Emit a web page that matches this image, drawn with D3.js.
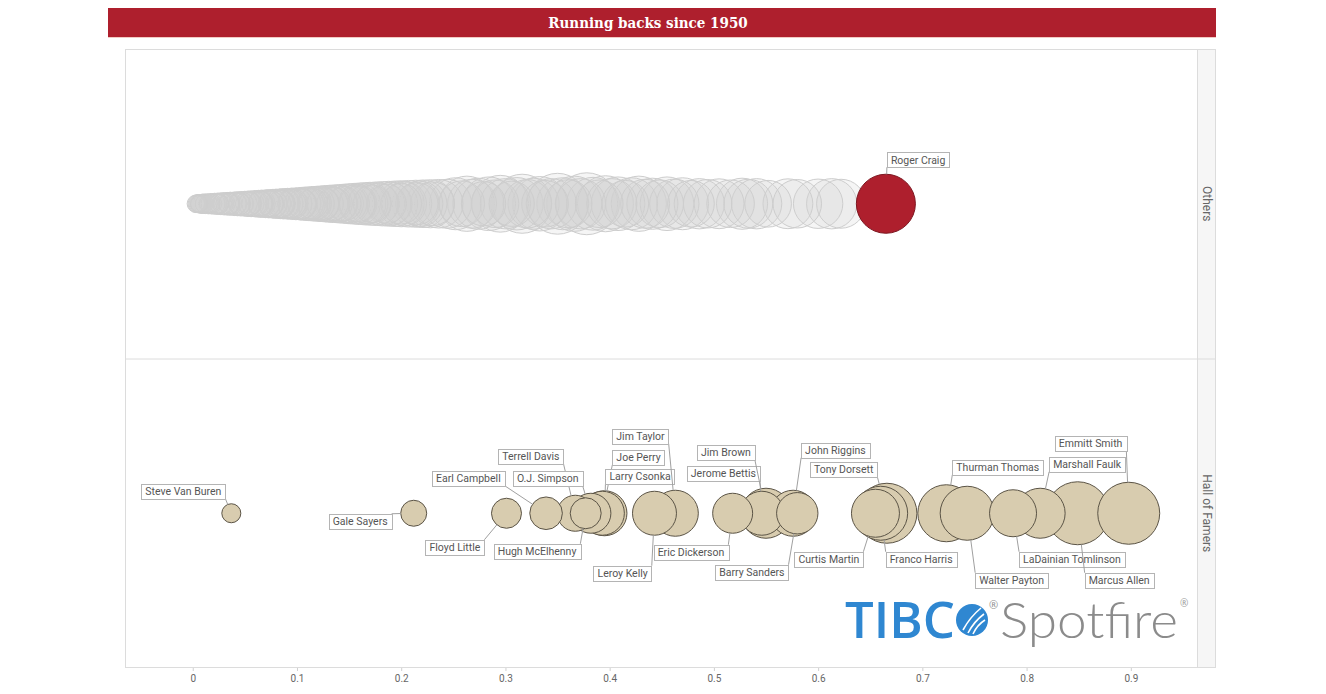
<!DOCTYPE html>
<html>
<head>
<meta charset="utf-8">
<script src="https://cdn.jsdelivr.net/npm/d3@7"></script>
<style>
  body { margin: 0; background: #fff; }
  svg { display: block; }
</style>
</head>
<body>
<div id="chart"></div>
<script>
const titleText = "Running backs since 1950";
const panels = ["Others", "Hall of Famers"];
const xTicks = [0, 0.1, 0.2, 0.3, 0.4, 0.5, 0.6, 0.7, 0.8, 0.9];

// Hall of Famers: x value and marker size value
const hofNames = ["Steve Van Buren", "Gale Sayers", "Floyd Little", "Earl Campbell", "Terrell Davis",
  "Hugh McElhenny", "O.J. Simpson", "Joe Perry", "Larry Csonka", "Leroy Kelly", "Jim Taylor",
  "Eric Dickerson", "Jerome Bettis", "Jim Brown", "John Riggins", "Barry Sanders", "Curtis Martin",
  "Franco Harris", "Tony Dorsett", "Thurman Thomas", "Walter Payton", "LaDainian Tomlinson",
  "Marshall Faulk", "Marcus Allen", "Emmitt Smith"];
const hofX = [0.037, 0.212, 0.301, 0.339, 0.367, 0.377, 0.382, 0.393, 0.395, 0.443, 0.463,
  0.518, 0.546, 0.550, 0.576, 0.580, 0.655, 0.660, 0.666, 0.723, 0.743, 0.787, 0.813, 0.849, 0.898];
const hofSize = [8.3, 15.5, 20.7, 24.4, 29.8, 22, 36.7, 44.4, 46.5, 44.4, 48.6,
  36.7, 44.4, 57.4, 48.6, 39.3, 52.9, 66.9, 82.6, 74.6, 66.9, 50.7, 57.4, 91, 88.2];

// the one highlighted player among the others
const highlightName = "Roger Craig";
const highlightX = 0.665;
const highlightSize = 80;

// other running backs: [x, size]
const others = [
  [0.003, 7.0], [0.004, 7.2], [0.005, 7.4], [0.006, 7.6], [0.007, 7.8], [0.008, 8.0], [0.009, 8.3],
  [0.010, 8.5], [0.012, 8.9], [0.015, 9.3],
  [0.018, 9.6], [0.021, 10.1], [0.024, 10.5], [0.027, 10.9], [0.030, 11.4], [0.033, 11.8], [0.036, 12.3],
  [0.040, 12.8], [0.043, 13.3], [0.046, 13.7], [0.050, 14.3], [0.053, 14.8], [0.056, 15.4], [0.060, 16.0],
  [0.063, 16.6], [0.066, 17.2], [0.070, 17.8], [0.073, 18.4], [0.077, 19.1], [0.080, 19.7], [0.084, 20.5],
  [0.087, 21.2], [0.091, 21.9], [0.095, 22.7], [0.099, 23.5], [0.103, 24.3], [0.107, 25.2], [0.111, 26.1],
  [0.115, 27.0], [0.119, 28.0], [0.123, 29.0], [0.127, 30.1], [0.131, 31.2], [0.135, 32.3], [0.140, 33.6],
  [0.145, 35.0], [0.150, 36.7], [0.155, 38.1], [0.160, 39.5], [0.165, 40.9], [0.170, 42.2], [0.176, 43.6],
  [0.182, 45.0], [0.188, 46.2], [0.194, 47.4], [0.200, 48.6], [0.207, 49.7], [0.214, 50.8], [0.221, 52.0],
  [0.228, 53.0], [0.236, 54.1], [0.244, 55.1],
  [0.006, 6.6], [0.015, 7.2], [0.025, 8.4], [0.035, 9.6], [0.045, 10.8], [0.055, 12.2], [0.065, 13.6],
  [0.075, 15.0], [0.085, 16.6], [0.095, 18.2], [0.105, 19.9], [0.115, 21.6], [0.125, 23.4], [0.135, 25.3],
  [0.145, 27.3], [0.158, 29.6], [0.172, 32.5], [0.186, 35.2], [0.200, 38.0], [0.215, 41.0], [0.230, 44.0],
  [0.011, 7.6], [0.017, 8.4], [0.023, 9.2], [0.029, 10.0], [0.035, 10.9], [0.041, 11.8], [0.047, 12.7],
  [0.053, 13.6], [0.059, 14.6], [0.065, 15.6], [0.071, 16.6], [0.077, 17.7], [0.083, 18.8], [0.089, 19.9],
  [0.096, 21.2], [0.103, 22.6], [0.110, 24.0], [0.117, 25.5], [0.124, 27.0], [0.132, 28.7], [0.140, 30.5],
  [0.149, 32.5], [0.158, 34.6], [0.168, 37.0], [0.178, 39.4], [0.190, 42.0], [0.203, 45.0], [0.218, 48.0],
  [0.252, 62], [0.258, 48], [0.263, 70], [0.268, 55], [0.274, 60], [0.279, 45], [0.284, 66], [0.290, 52],
  [0.295, 74], [0.300, 58], [0.306, 47], [0.311, 63], [0.316, 80], [0.321, 54], [0.327, 60], [0.333, 68],
  [0.338, 50], [0.344, 58], [0.350, 85], [0.355, 62], [0.360, 53], [0.366, 70], [0.372, 58], [0.378, 88],
  [0.384, 64], [0.390, 52], [0.396, 72], [0.402, 58], [0.408, 66], [0.415, 50], [0.421, 62], [0.428, 70],
  [0.434, 55], [0.441, 60], [0.448, 52], [0.455, 66], [0.462, 56], [0.470, 62], [0.478, 50], [0.486, 58],
  [0.494, 54],
  [0.505, 57], [0.516, 52], [0.527, 60], [0.533, 55], [0.541, 58], [0.552, 50], [0.571, 57], [0.580, 54],
  [0.600, 56], [0.613, 58], [0.622, 55]
];

// label box placement, pixel offset of box left / box middle from the marker centre
const labelOffsets = {
  "Steve Van Buren": [-90, -22], "Gale Sayers": [-85, 8], "Floyd Little": [-81, 34],
  "Earl Campbell": [-114, -35], "Terrell Davis": [-77, -57], "O.J. Simpson": [-78, -35],
  "Hugh McElhenny": [-92, 38], "Joe Perry": [10, -56], "Larry Csonka": [1, -37],
  "Leroy Kelly": [-61, 60], "Jim Taylor": [-63, -77], "Eric Dickerson": [-79, 39],
  "Jerome Bettis": [-75, -40], "Jim Brown": [-69, -61], "John Riggins": [8, -63],
  "Barry Sanders": [-82, 59], "Curtis Martin": [-81, 46], "Franco Harris": [5, 46],
  "Tony Dorsett": [-77, -44], "Thurman Thomas": [6, -46], "Walter Payton": [8, 67],
  "LaDainian Tomlinson": [6, 46], "Marshall Faulk": [9, -49], "Marcus Allen": [7, 67],
  "Emmitt Smith": [-74, -70], "Roger Craig": [1, -44]
};

const width = 1326, height = 694;
const frame = { left: 125, right: 1216, top: 49, bottom: 668, strip: 19 };
const plotRight = frame.right - frame.strip;

const svg = d3.select("#chart").append("svg")
  .attr("width", width)
  .attr("height", height);

// title bar
svg.append("rect")
  .attr("x", 108).attr("y", 8).attr("width", 1108).attr("height", 29)
  .attr("fill", "#ae1f2d");
svg.append("line")
  .attr("x1", 108).attr("x2", 1216).attr("y1", 37.5).attr("y2", 37.5)
  .attr("stroke", "#f2cbc4");
svg.append("text")
  .attr("x", 648).attr("y", 27.5)
  .attr("text-anchor", "middle")
  .attr("fill", "#fff")
  .style("font-family", "'DejaVu Serif Condensed', 'DejaVu Serif', serif")
  .style("font-weight", "bold")
  .style("font-size", "15px")
  .text(titleText);

// scales
const x = d3.scaleLinear().domain([-0.065, 0.9635]).range([frame.left, plotRight]);
const y = d3.scaleBand().domain(panels).range([frame.top, frame.bottom]);
const r = d3.scaleSqrt().domain([0, 100]).range([0, 33]);

// frame and panel strip
svg.append("rect")
  .attr("x", plotRight).attr("y", frame.top)
  .attr("width", frame.strip).attr("height", frame.bottom - frame.top)
  .attr("fill", "#f6f6f6");
svg.append("rect")
  .attr("x", frame.left + 0.5).attr("y", frame.top + 0.5)
  .attr("width", frame.right - frame.left - 1).attr("height", frame.bottom - frame.top - 1)
  .attr("fill", "none").attr("stroke", "#dcdcdc");
svg.append("line")
  .attr("x1", plotRight + 0.5).attr("x2", plotRight + 0.5)
  .attr("y1", frame.top).attr("y2", frame.bottom)
  .attr("stroke", "#dcdcdc");
svg.append("line")
  .attr("x1", frame.left).attr("x2", frame.right)
  .attr("y1", y("Hall of Famers") + 0.5).attr("y2", y("Hall of Famers") + 0.5)
  .attr("stroke", "#dcdcdc");

svg.append("g").selectAll("text")
  .data(panels)
  .join("text")
  .attr("transform", d => `translate(${plotRight + frame.strip / 2 - 4},${y(d) + y.bandwidth() / 2}) rotate(90)`)
  .attr("text-anchor", "middle")
  .attr("fill", "#666")
  .style("font-family", "Roboto, sans-serif")
  .style("font-size", "12px")
  .text(d => d);

// watermark logo
const logo = svg.append("g");
logo.append("text")
  .attr("x", 845).attr("y", 638)
  .attr("fill", "#2f87d1")
  .attr("textLength", 110).attr("lengthAdjust", "spacingAndGlyphs")
  .style("font-family", "'Open Sans', sans-serif")
  .style("font-weight", 600)
  .style("font-size", "50px")
  .text("TIBC");
logo.append("circle")
  .attr("cx", 972).attr("cy", 620).attr("r", 16)
  .attr("fill", "#2f87d1");
[[-9, 10, 9, -12], [-4, 13, 12, -6], [1, 14, 13, 0]].forEach(([a, b, c, d]) => {
  logo.append("path")
    .attr("d", `M${972 + a},${620 + b} Q${972 + (a + c) / 2 - 2},${620 + (b + d) / 2 - 2} ${972 + c},${620 + d}`)
    .attr("fill", "none").attr("stroke", "#fff").attr("stroke-width", 1.6);
});
logo.append("text")
  .attr("x", 989).attr("y", 609)
  .attr("fill", "#8e8e8e")
  .style("font-family", "'Open Sans', sans-serif")
  .style("font-size", "11px")
  .text("®");
logo.append("text")
  .attr("x", 1000).attr("y", 638)
  .attr("fill", "#8b8b8b")
  .attr("textLength", 178).attr("lengthAdjust", "spacingAndGlyphs")
  .style("font-family", "Lato, 'Open Sans', sans-serif")
  .style("font-weight", 300)
  .style("font-size", "50px")
  .text("Spotfire");
logo.append("text")
  .attr("x", 1180).attr("y", 607)
  .attr("fill", "#9a9a9a")
  .style("font-family", "'Open Sans', sans-serif")
  .style("font-size", "10px")
  .text("®");

// x axis
const axis = svg.append("g")
  .attr("transform", `translate(0,${frame.bottom})`)
  .call(d3.axisBottom(x).tickValues(xTicks).tickFormat(d3.format("")).tickSize(3).tickPadding(4));
axis.select(".domain").remove();
axis.selectAll(".tick line").attr("stroke", "#d0d0d0");
axis.selectAll(".tick text")
  .attr("fill", "#666")
  .style("font-family", "Roboto, sans-serif")
  .style("font-size", "10px");

// other players
const cyOthers = y("Others") + y.bandwidth() / 2;
const othersSorted = others.slice().sort((a, b) => b[1] - a[1]);
svg.append("g").selectAll("circle")
  .data(othersSorted)
  .join("circle")
  .attr("cx", d => x(d[0]))
  .attr("cy", cyOthers)
  .attr("r", d => r(d[1]))
  .attr("fill", "#d3d3d3")
  .attr("fill-opacity", 0.22)
  .attr("stroke", "#cdcdcd")
  .attr("stroke-width", 1);

svg.append("circle")
  .attr("cx", x(highlightX))
  .attr("cy", cyOthers)
  .attr("r", r(highlightSize))
  .attr("fill", "#ae1f2d")
  .attr("stroke", "#7d1620");

// hall of famers
const cyHof = y("Hall of Famers") + y.bandwidth() / 2;
const hof = hofNames.map((name, i) => ({ name, x: hofX[i], size: hofSize[i] }));
svg.append("g").selectAll("circle")
  .data(hof.slice().sort((a, b) => b.size - a.size))
  .join("circle")
  .attr("cx", d => x(d.x))
  .attr("cy", cyHof)
  .attr("r", d => r(d.size))
  .attr("fill", "#d8ccaf")
  .attr("stroke", "#5b5446")
  .attr("stroke-width", 1);

// labels with leader lines
const labelled = hof.map(d => ({ name: d.name, cx: x(d.x), cy: cyHof, rad: r(d.size) }))
  .concat([{ name: highlightName, cx: x(highlightX), cy: cyOthers, rad: r(highlightSize) }]);

const labelLayer = svg.append("g");
labelled.forEach(d => {
  const [dx, dy] = labelOffsets[d.name];
  const g = labelLayer.append("g");
  const line = g.append("line").attr("stroke", "#a0a0a0");
  const box = g.append("rect").attr("fill", "#fff").attr("stroke", "#b4b4b4");
  const t = g.append("text")
    .attr("x", d.cx + dx + 4)
    .attr("y", d.cy + dy + 3.8)
    .attr("fill", "#555")
    .style("font-family", "Roboto, sans-serif")
    .style("font-size", "10.5px")
    .text(d.name);
  const w = t.node().getComputedTextLength() + 8;
  const bx0 = d.cx + dx, bx1 = bx0 + w, by0 = d.cy + dy - 7.5, by1 = by0 + 15;
  box.attr("x", Math.round(bx0) + 0.5).attr("y", Math.round(by0) + 0.5)
    .attr("width", Math.round(w)).attr("height", 15);
  const px = (bx0 + bx1) / 2 < d.cx ? bx1 : bx0;
  const py = (by0 + by1) / 2 < d.cy ? by1 : by0;
  const len = Math.hypot(px - d.cx, py - d.cy);
  line.attr("x1", px).attr("y1", py)
    .attr("x2", d.cx + (px - d.cx) / len * d.rad)
    .attr("y2", d.cy + (py - d.cy) / len * d.rad);
});
</script>
</body>
</html>
